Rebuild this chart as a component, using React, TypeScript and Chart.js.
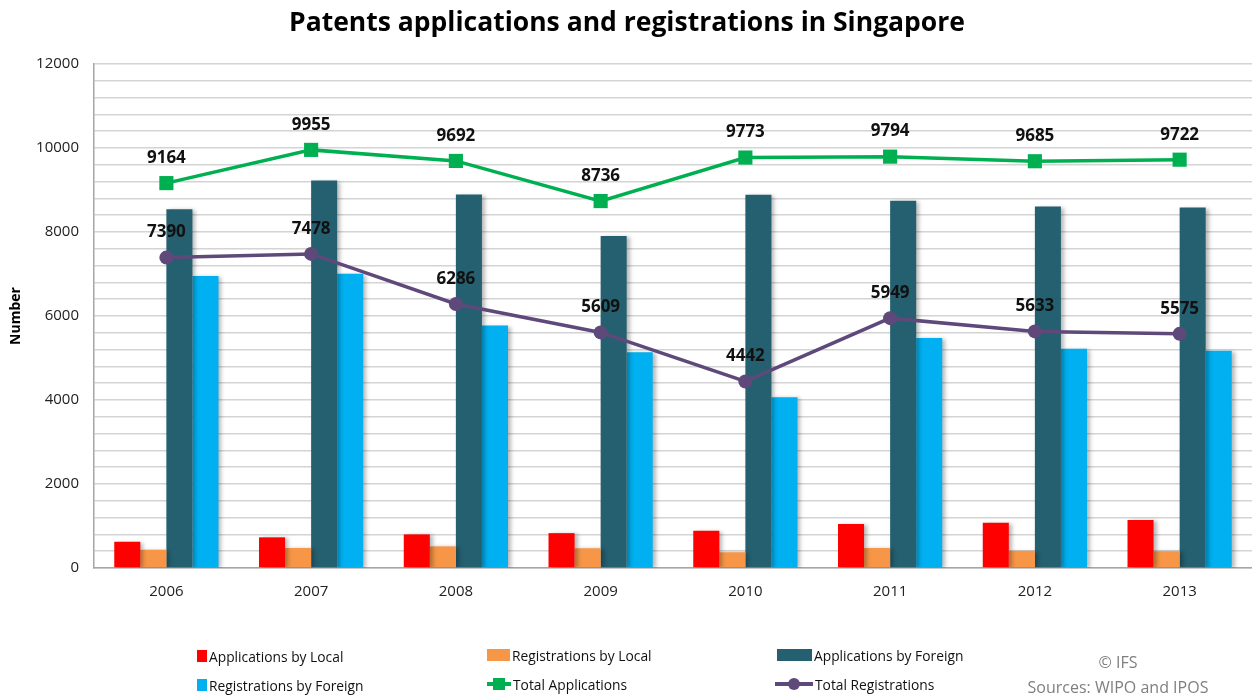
import React, { useEffect, useRef } from "react";
import { Chart, registerables } from "chart.js";

Chart.register(...registerables);

const years = ["2006", "2007", "2008", "2009", "2010", "2011", "2012", "2013"];
const appLocal = [625, 730, 800, 830, 885, 1050, 1080, 1140];
const regLocal = [435, 475, 515, 470, 375, 475, 410, 400];
const appForeign = [8539, 9225, 8892, 7906, 8888, 8744, 8605, 8582];
const regForeign = [6955, 7003, 5771, 5139, 4067, 5474, 5223, 5175];
const totalApps = [9164, 9955, 9692, 8736, 9773, 9794, 9685, 9722];
const totalRegs = [7390, 7478, 6286, 5609, 4442, 5949, 5633, 5575];

const TITLE = "Patents applications and registrations in Singapore";
const FONT = "'Open Sans', 'DejaVu Sans', sans-serif";

const C_RED = "#FF0000";
const C_ORANGE = "#F79646";
const C_DARK = "#256070";
const C_BLUE = "#00B0F0";
const C_GREEN = "#00B050";
const C_PURPLE = "#5F497A";

const titlePlugin = {
  id: "customTitle",
  afterDraw(chart: any) {
    const ctx = chart.ctx;
    ctx.save();
    ctx.font = `bold 26.5px ${FONT}`;
    ctx.fillStyle = "#000";
    ctx.textAlign = "center";
    ctx.textBaseline = "middle";
    ctx.fillText(TITLE, 627, 23);
    ctx.restore();
  },
};

const shadowPlugin = {
  id: "barShadow",
  beforeDatasetDraw(chart: any, args: any) {
    const meta = chart.getDatasetMeta(args.index);
    if (meta.type !== "bar") return;
    const ctx = chart.ctx;
    ctx.save();
    ctx.shadowColor = "rgba(0,0,0,0.28)";
    ctx.shadowBlur = 4;
    ctx.shadowOffsetX = 3;
    ctx.shadowOffsetY = 1;
  },
  afterDatasetDraw(chart: any, args: any) {
    const meta = chart.getDatasetMeta(args.index);
    if (meta.type !== "bar") return;
    chart.ctx.restore();
  },
};

const labelPlugin = {
  id: "lineLabels",
  afterDatasetsDraw(chart: any) {
    const ctx = chart.ctx;
    ctx.save();
    ctx.font = `bold 17px ${FONT}`;
    ctx.fillStyle = "#111";
    ctx.textAlign = "center";
    ctx.textBaseline = "middle";
    chart.data.datasets.forEach((ds: any, i: number) => {
      const meta = chart.getDatasetMeta(i);
      if (meta.type !== "line") return;
      meta.data.forEach((pt: any, j: number) => {
        ctx.fillText(String(ds.data[j]), pt.x, pt.y - 25);
      });
    });
    ctx.restore();
  },
};

function LegendItem(props: { left: number; top: number; marker: React.ReactNode; text: string }) {
  return (
    <div
      style={{
        position: "absolute",
        left: props.left,
        top: props.top,
        height: 16,
        display: "flex",
        alignItems: "center",
        fontFamily: FONT,
        fontSize: 13.8,
        color: "#111",
        whiteSpace: "nowrap",
      }}
    >
      {props.marker}
      <span style={{ marginLeft: 2 }}>{props.text}</span>
    </div>
  );
}

const box = (w: number, color: string) => (
  <div style={{ width: w, height: 12, background: color }} />
);

const lineMarker = (w: number, color: string, shape: "rect" | "circle") => (
  <div style={{ position: "relative", width: w, height: 16 }}>
    <div style={{ position: "absolute", left: 0, top: 6, width: w, height: 4, background: color }} />
    <div
      style={{
        position: "absolute",
        left: w / 2 - 6,
        top: 2,
        width: 12,
        height: 12,
        background: color,
        borderRadius: shape === "circle" ? 6 : 0,
      }}
    />
  </div>
);

export default function App() {
  const ref = useRef<HTMLCanvasElement | null>(null);

  useEffect(() => {
    if (!ref.current) return;
    const chart = new Chart(ref.current, {
      type: "bar",
      data: {
        labels: years,
        datasets: [
          {
            type: "line",
            label: "Total Applications",
            data: totalApps,
            borderColor: C_GREEN,
            backgroundColor: C_GREEN,
            borderWidth: 3.5,
            pointStyle: "rect",
            pointRadius: 10,
            pointBorderWidth: 0,
            pointBackgroundColor: C_GREEN,
            tension: 0,
            order: 0,
          } as any,
          {
            type: "line",
            label: "Total Registrations",
            data: totalRegs,
            borderColor: C_PURPLE,
            backgroundColor: C_PURPLE,
            borderWidth: 3.5,
            pointStyle: "circle",
            pointRadius: 7,
            pointBorderWidth: 0,
            pointBackgroundColor: C_PURPLE,
            tension: 0,
            order: 0,
          } as any,
          { label: "Applications by Local", data: appLocal, backgroundColor: C_RED, order: 1 },
          { label: "Registrations by Local", data: regLocal, backgroundColor: C_ORANGE, order: 1 },
          { label: "Applications by Foreign", data: appForeign, backgroundColor: C_DARK, order: 1 },
          { label: "Registrations by Foreign", data: regForeign, backgroundColor: C_BLUE, order: 1 },
        ],
      },
      options: {
        responsive: false,
        maintainAspectRatio: false,
        animation: false,
        datasets: {
          bar: { categoryPercentage: 0.72, barPercentage: 1.0 },
        },
        layout: { autoPadding: false, padding: { top: 64, right: 0, left: 0, bottom: 0 } },
        plugins: {
          legend: { display: false },
          title: { display: false },
          tooltip: { enabled: false },
        },
        scales: {
          x: {
            grid: { display: false, drawTicks: false },
            border: { display: true, color: "#A6A6A6", width: 1.5 },
            ticks: {
              color: "#222",
              font: { family: FONT, size: 15 },
              padding: 15,
              maxRotation: 0,
            },
            afterFit: (scale: any) => {
              scale.height = 127;
            },
          },
          y: {
            min: 0,
            max: 12000,
            grid: { color: "#D4D4D4", lineWidth: 1.5, drawTicks: false },
            border: { display: true, color: "#A6A6A6", width: 1.5 },
            ticks: {
              stepSize: 400,
              autoSkip: false,
              color: "#222",
              font: { family: FONT, size: 15 },
              padding: 15,
              callback: (v: any) => (Number(v) % 2000 === 0 ? String(v) : ""),
            },
            title: {
              display: true,
              text: "Number",
              color: "#000",
              font: { family: FONT, size: 14, weight: "bold" },
              padding: { top: 8, bottom: 0 },
            },
            afterFit: (scale: any) => {
              scale.width = 94;
            },
          },
        },
      },
      plugins: [titlePlugin, shadowPlugin, labelPlugin],
    });
    return () => chart.destroy();
  }, []);

  return (
    <div style={{ position: "absolute", left: 0, top: 0, width: 1252, height: 695, background: "#fff", overflow: "hidden" }}>
      <canvas ref={ref} width={1252} height={695} style={{ display: "block" }} />
      <LegendItem left={197} top={648} marker={box(10, C_RED)} text="Applications by Local" />
      <LegendItem left={487} top={647} marker={box(23, C_ORANGE)} text="Registrations by Local" />
      <LegendItem left={777} top={647} marker={box(35, C_DARK)} text="Applications by Foreign" />
      <LegendItem left={197} top={677} marker={box(10, C_BLUE)} text="Registrations by Foreign" />
      <LegendItem left={487} top={676} marker={lineMarker(24, C_GREEN, "rect")} text="Total Applications" />
      <LegendItem left={775} top={676} marker={lineMarker(38, C_PURPLE, "circle")} text="Total Registrations" />
      <div
        style={{
          position: "absolute",
          left: 1018,
          width: 200,
          top: 650,
          textAlign: "center",
          fontFamily: FONT,
          fontSize: 16,
          color: "#7F7F7F",
          lineHeight: "25px",
        }}
      >
        <div>© IFS</div>
        <div>Sources: WIPO and IPOS</div>
      </div>
    </div>
  );
}
